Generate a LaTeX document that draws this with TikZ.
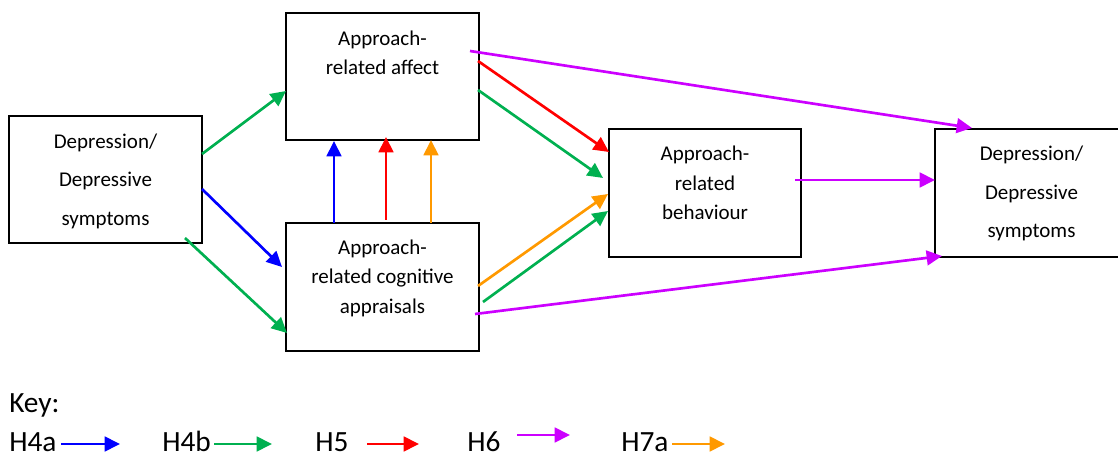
\documentclass[tikz,border=0pt]{standalone}
\usepackage{fontspec}
\setmainfont{Carlito}
\usetikzlibrary{arrows.meta,calc}
\definecolor{cblue}{RGB}{0,0,255}
\definecolor{cgreen}{RGB}{0,176,80}
\definecolor{cred}{RGB}{255,0,0}
\definecolor{cmag}{RGB}{204,0,255}
\definecolor{corange}{RGB}{255,153,0}
\begin{document}
\begin{tikzpicture}[x=0.75pt,y=-0.75pt,
  box/.style={draw=black,line width=1.5pt,inner sep=0pt,rectangle},
  lbl/.style={inner sep=0pt,anchor=north,align=center,font=\fontsize{15.75}{22.1}\selectfont},
  lblwide/.style={lbl,font=\fontsize{15.75}{28.9}\selectfont},
  conn/.style={line width=2pt,-{Triangle[length=11.5pt,width=11pt]}},
  keytext/.style={inner sep=0pt,anchor=base west,font=\fontsize{22}{26}\selectfont}]
\useasboundingbox (0,0) rectangle (1118,459);

% boxes
\node[box,minimum width=144.75pt,minimum height=95.25pt] (A) at (105.5,179.5) {};
\node[box,minimum width=144.75pt,minimum height=95.25pt] (B) at (382.5,76.5) {};
\node[box,minimum width=144.75pt,minimum height=96pt] (C) at (382.5,287) {};
\node[box,minimum width=144pt,minimum height=96pt] (D) at (705,193) {};
\node[box,minimum width=144.75pt,minimum height=96pt] (E) at (1031.5,193) {};

% texts
\node[lblwide] (At) at (105.5,133.5) {Depression/\\Depressive\\symptoms};
\node[lbl] (Bt) at (382.5,30.5) {Approach-\\related affect};
\node[lbl] (Ct) at (382.5,239.5) {Approach-\\related cognitive\\appraisals};
\node[lbl] (Dt) at (705,146) {Approach-\\related\\behaviour};
\node[lblwide] (Et) at (1031.5,146) {Depression/\\Depressive\\symptoms};

% connector end points
\coordinate (a1) at (202,154); \coordinate (b1) at (286,91);
\coordinate (a2) at (202,189); \coordinate (c2) at (282,267);
\coordinate (a3) at (185,238); \coordinate (c3) at (287,333);
\coordinate (c4) at (334,223); \coordinate (b4) at (334,141);
\coordinate (c5) at (386,220); \coordinate (b5) at (386,137);
\coordinate (c6) at (431,223); \coordinate (b6) at (431,140);
\coordinate (b7) at (478,61);  \coordinate (d7) at (609,152);
\coordinate (b8) at (478,90);  \coordinate (d8) at (603,178);
\coordinate (c9) at (478,286); \coordinate (d9) at (608,194);
\coordinate (c10) at (483,302); \coordinate (d10) at (608,211);
\coordinate (b11) at (470,51); \coordinate (e11) at (972,128);
\coordinate (d12) at (795,180); \coordinate (e12) at (935,180);
\coordinate (c13) at (475,314); \coordinate (e13) at (942,256);

\draw[conn,cgreen] (a1) -- (b1);
\draw[conn,cblue] (a2) -- (c2);
\draw[conn,cgreen] (a3) -- (c3);
\draw[conn,cblue] (c4) -- (b4);
\draw[conn,cred] (c5) -- (b5);
\draw[conn,corange] (c6) -- (b6);
\draw[conn,cred] (b7) -- (d7);
\draw[conn,cgreen] (b8) -- (d8);
\draw[conn,corange] (c9) -- (d9);
\draw[conn,cgreen] (c10) -- (d10);
\draw[conn,cmag] (b11) -- (e11);
\draw[conn,cmag] (d12) -- (e12);
\draw[conn,cmag] (c13) -- (e13);

% key
\node[keytext] (key) at (9,413) {Key:};
\node[keytext] (k1) at (9,452) {H4a};
\node[keytext] (k2) at (162,452) {H4b};
\node[keytext] (k3) at (315,452) {H5};
\node[keytext] (k4) at (467,452) {H6};
\node[keytext] (k5) at (621,452) {H7a};
\coordinate (k1s) at (61,444); \coordinate (k1e) at (120,444);
\coordinate (k2s) at (214,444); \coordinate (k2e) at (272,444);
\coordinate (k3s) at (367,444); \coordinate (k3e) at (419,444);
\coordinate (k4s) at (517,435); \coordinate (k4e) at (570,435);
\coordinate (k5s) at (672,444); \coordinate (k5e) at (725,444);
\draw[conn,cblue] (k1s) -- (k1e);
\draw[conn,cgreen] (k2s) -- (k2e);
\draw[conn,cred] (k3s) -- (k3e);
\draw[conn,cmag] (k4s) -- (k4e);
\draw[conn,corange] (k5s) -- (k5e);
\end{tikzpicture}
\end{document}
